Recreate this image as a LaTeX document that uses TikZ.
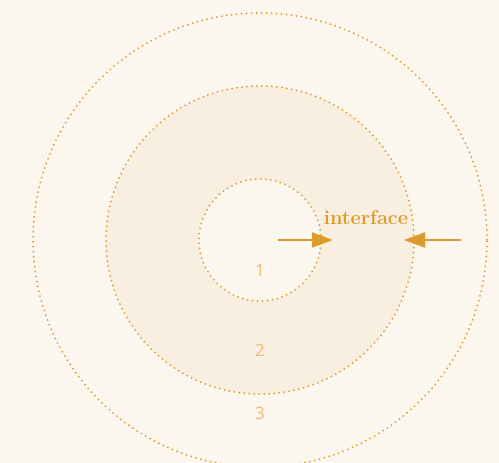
\documentclass[tikz,border=0pt]{standalone}
\usepackage{fontspec}
\newfontfamily\labelfont{Open Sans}
\usepackage{tikz}
\usetikzlibrary{arrows.meta, positioning}

\definecolor{paper}{HTML}{FBF6EE}
\definecolor{ringfill}{HTML}{F8EFE1}
\definecolor{amber}{HTML}{DE9A2A}
\definecolor{softamber}{HTML}{E9BC72}

\begin{document}
\begin{tikzpicture}[
  x=1pt, y=1pt,
  zone/.style={circle, draw=amber, line width=2pt, line cap=round,
    dash pattern=on 0pt off 5pt, inner sep=0pt},
  tag/.style={text=softamber, font=\labelfont\fontsize{17}{17}\selectfont},
  arrow/.style={draw=amber, line width=2pt, -{Triangle[length=21pt, width=15pt]}}
]

% Background
\fill[paper] (0,0) rectangle (499,463);
\useasboundingbox (0,0) rectangle (499,463);

% Nodes
\node[zone, minimum size=454pt] (outer) at (260,223) {};
\node[zone, minimum size=308pt, fill=ringfill] (middle) at (260,223) {};
\node[zone, minimum size=122pt, fill=paper] (inner) at (260,223) {};

\node[tag] (z1) at (260,193) {1};
\node[tag] (z2) at (260,113) {2};
\node[tag] (z3) at (260,50) {3};

\node[text=amber, font=\bfseries\fontsize{20}{20}\selectfont] (iface) at (366,245) {interface};

\coordinate (a1) at (278,223);
\coordinate (b1) at (333,223);
\coordinate (a2) at (461,223);
\coordinate (b2) at (404,223);

% Pointers
\draw[arrow] (a1) -- (b1);
\draw[arrow] (a2) -- (b2);
\end{tikzpicture}
\end{document}
